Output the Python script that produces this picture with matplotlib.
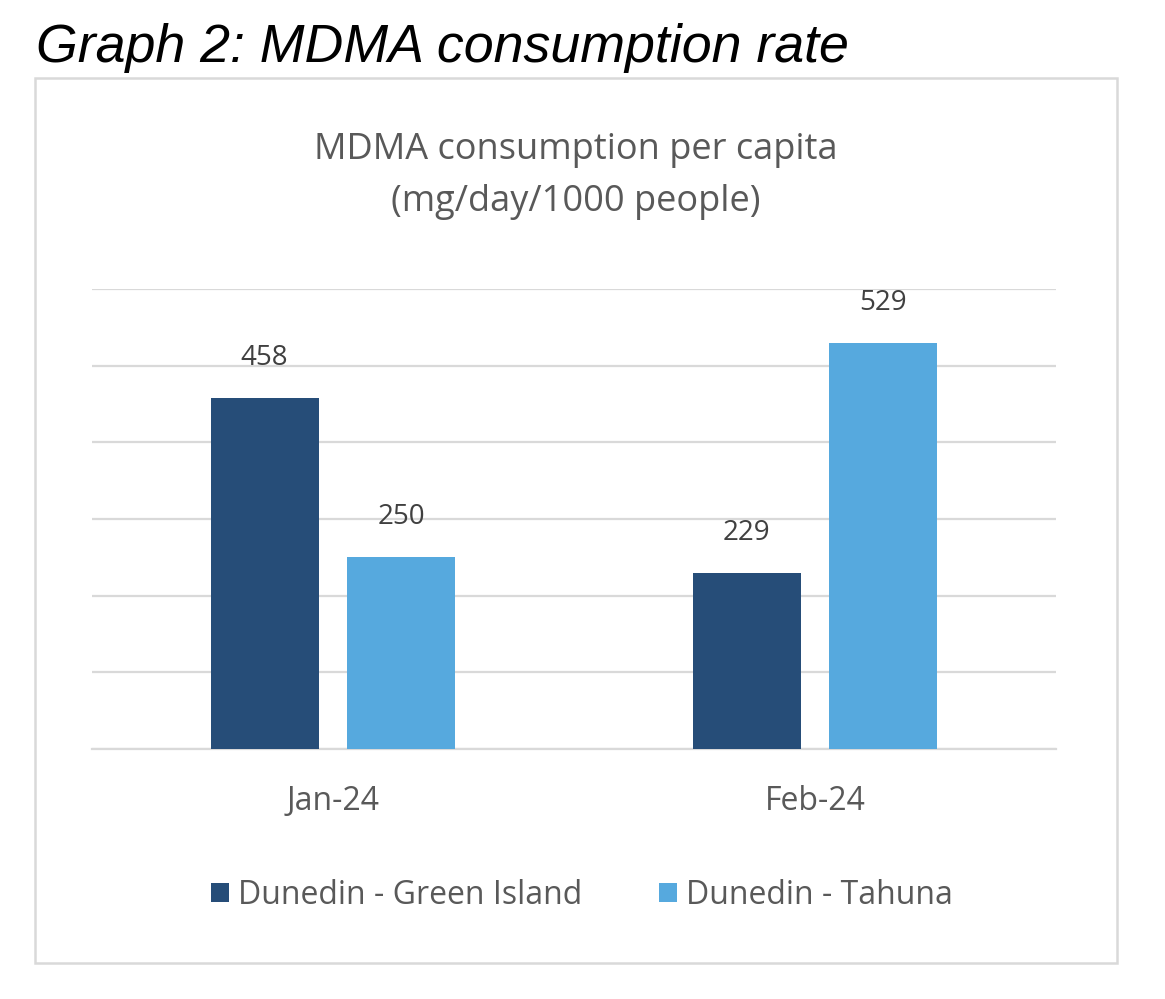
import matplotlib
matplotlib.use("Agg")
import matplotlib.pyplot as plt
from matplotlib.patches import Rectangle
import numpy as np

categories = ["Jan-24", "Feb-24"]
series_names = ["Dunedin - Green Island", "Dunedin - Tahuna"]
green_island = [458, 229]
tahuna = [250, 529]
colors = ["#264D78", "#56A9DE"]

W, H = 1165, 999
fig = plt.figure(figsize=(W / 100, H / 100), dpi=100)
fig.patch.set_facecolor("white")

# outer chart frame
fig.patches.append(Rectangle((35 / W, 1 - 963 / H), (1117 - 35) / W, (963 - 78) / H,
                             transform=fig.transFigure, fill=False,
                             edgecolor="#D9D9D9", linewidth=1.8))

fig.text(36 / W, 1 - 48 / H, "Graph 2: MDMA consumption rate", fontsize=38.7,
         fontstyle="italic", family="Liberation Sans", ha="left", va="center", color="black")

fig.text(576 / W, 1 - 176 / H, "MDMA consumption per capita\n(mg/day/1000 people)",
         fontsize=26, family="Open Sans", ha="center", va="center", color="#595959",
         linespacing=1.6)

ax = fig.add_axes([92 / W, 1 - 749 / H, (1056 - 92) / W, (749 - 289) / H])
x = np.arange(len(categories))
bw = 0.224
off = 0.142
b1 = ax.bar(x - off, green_island, bw, color=colors[0], label=series_names[0], zorder=3)
b2 = ax.bar(x + off, tahuna, bw, color=colors[1], label=series_names[1], zorder=3)
for bars, vals in ((b1, green_island), (b2, tahuna)):
    for rect, v in zip(bars, vals):
        ax.annotate(f"{v}", (rect.get_x() + rect.get_width() / 2, v),
                    xytext=(0, 29), textcoords="offset points", ha="center", va="center",
                    fontsize=20, family="Open Sans", color="#404040")

ax.set_xlim(-0.5, 1.5)
ax.set_ylim(0, 600)
ax.set_yticks(np.arange(0, 601, 100))
ax.yaxis.grid(True, color="#D9D9D9", linewidth=1.6, zorder=0)
ax.tick_params(axis="y", left=False, labelleft=False)
ax.tick_params(axis="x", length=0, pad=26, labelsize=23, labelcolor="#595959")
ax.set_xticks(x)
ax.set_xticklabels(categories, family="Open Sans")
for s in ("top", "left", "right"):
    ax.spines[s].set_visible(False)
ax.spines["bottom"].set_color("#D9D9D9")
ax.spines["bottom"].set_linewidth(1.6)
ax.set_facecolor("none")

leg = fig.legend(handles=[b1, b2], labels=series_names, loc="center",
                 bbox_to_anchor=(582 / W, 1 - 895 / H), ncol=2, frameon=False,
                 prop={"family": "Open Sans", "size": 23}, handlelength=0.55,
                 handleheight=0.55, handletextpad=0.3, columnspacing=2.4)
for t in leg.get_texts():
    t.set_color("#595959")

fig.savefig("out.png", dpi=100)
